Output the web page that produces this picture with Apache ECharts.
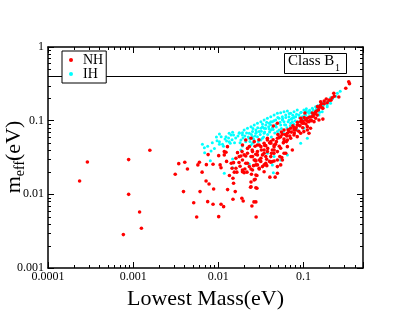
<!DOCTYPE html>
<html><head><meta charset="utf-8">
<script src="https://cdn.jsdelivr.net/npm/echarts@6/dist/echarts.min.js"></script>
<style>html,body{margin:0;padding:0;background:#fff}#c{width:409px;height:316px}</style>
</head><body><div id="c"></div>
<script>
const xTickLabels = ['0.0001','0.001','0.01','0.1'];
const yTickLabels = ['0.001','0.01','0.1','1'];
const minorMultipliers = [2,3,4,5,6,7,8,9];
const xDecades = [0.0001,0.001,0.01,0.1];
const yDecades = [0.001,0.01,0.1];
const hLineValue = 0.4;
const seriesNames = ['NH','IH'];
const nhData = [
[0.000235,0.0152],[0.00029,0.0275],[0.000885,0.0296],[0.000885,0.01],[0.00119,0.00577],[0.00125,0.00347],[0.000767,0.00284],[0.00157,0.0397],
[0.00312,0.0187],[0.00343,0.0261],[0.00404,0.0272],[0.00434,0.0221],[0.0039,0.0109],[0.00514,0.0077],[0.00557,0.00493],[0.00575,0.0251],[0.006,0.0272],[0.0061,0.0109],[0.00645,0.02],
[0.00718,0.0152],[0.00778,0.0138],[0.00881,0.0118],[0.0075,0.00796],[0.00867,0.00734],[0.01076,0.00734],[0.01154,0.0068],[0.01285,0.0116],[0.0158,0.0109],[0.01486,0.00857],[0.0189,0.00885],[0.0196,0.00813],[0.0101,0.00498],[0.01486,0.0165],[0.0151,0.01415],
[0.00724,0.0253],[0.00867,0.0256],[0.00759,0.0346],[0.0101,0.0335],[0.01076,0.023],[0.0105,0.0251],[0.0123,0.0373],[0.0142,0.0264],[0.0151,0.0269],[0.0161,0.0226],
[0.0262,0.00789],[0.0276,0.00789],[0.0248,0.00696],[0.0278,0.00493],[0.0242,0.0127],[0.0276,0.0123],[0.0271,0.016],[0.0242,0.0147],
[0.0192,0.0214],[0.0201,0.0197],[0.0231,0.0238],[0.0252,0.0214],[0.0276,0.0183],[0.0288,0.0251],[0.033,0.0238],[0.0345,0.0203],[0.0302,0.0293],[0.0361,0.0325],[0.0403,0.0171],[0.0465,0.0171],[0.0494,0.0238],[0.0431,0.04],[0.0527,0.0325],[0.0565,0.0293],[0.0619,0.0361],[0.074,0.04],
[0.021,0.0547],[0.0231,0.0444],[0.0252,0.038],[0.0168,0.0368],[0.0184,0.0332],[0.021,0.0332],[0.0192,0.0293],[0.0205,0.0221],[0.0217,0.02],[0.0242,0.0221],[0.0259,0.0245],[0.0245,0.0187],[0.0284,0.018],[0.0264,0.0157],[0.0239,0.0125],[0.0284,0.0121],[0.0371,0.0245],[0.0494,0.0193],[0.0192,0.0468],[0.01175,0.038],
[0.34,0.338],[0.347,0.318],[0.314,0.275],[0.26,0.21],[0.227,0.235],[0.217,0.205],[0.185,0.197],[0.175,0.185],[0.163,0.17],[0.169,0.147],[0.155,0.153],[0.139,0.132],[0.145,0.119],[0.133,0.122],[0.125,0.113],[0.169,0.105],[0.116,0.097],[0.104,0.127],[0.0986,0.097],[0.0927,0.108],[0.0869,0.0874],[0.0774,0.0804],[0.081,0.0748],[0.0676,0.071],[0.0637,0.062],[0.0591,0.0565],[0.0565,0.0654],[0.0517,0.0588],[0.0481,0.0519],[0.0452,0.0444],[0.0413,0.0493],[0.0377,0.0577],[0.0361,0.0458],[0.0345,0.04],[0.033,0.0343],[0.0302,0.0468],[0.0288,0.038],[0.0271,0.0293],[0.0252,0.0325],[0.022,0.0264],[0.0201,0.0343],[0.0176,0.0325],[0.0161,0.0309],[0.0145,0.0226],[0.0128,0.0444],[0.01175,0.0343],[0.0154,0.02],[0.0192,0.0203],[0.0302,0.0221],[0.0556,0.0315],[0.0413,0.0273],[0.0452,0.0284],[0.0345,0.0251],[0.0276,0.0284],[0.116,0.0675],[0.111,0.083],[0.133,0.097],[0.139,0.108],
[0.0443,0.0848],[0.0494,0.0922],[0.0591,0.0748],[0.0647,0.0675],[0.0708,0.0789],[0.0774,0.0748],[0.0845,0.0874],[0.0927,0.097],[0.101,0.0922],[0.111,0.108],[0.121,0.102],[0.0242,0.0577],[0.0264,0.0519],[0.0288,0.0468],[0.0316,0.0444],[0.0345,0.0493],[0.0377,0.0547],[0.0413,0.0519],[0.0452,0.0468],[0.0494,0.0577],[0.054,0.0607],[0.0591,0.0519],[0.0647,0.0547],[0.0708,0.0577],[0.0774,0.064],[0.0845,0.0607],[0.0927,0.0675],[0.101,0.071],[0.111,0.0748],[0.121,0.0789],[0.022,0.0361],[0.0242,0.0325],[0.0264,0.0293],[0.0288,0.0343],[0.0316,0.0309],[0.0345,0.0361],[0.0377,0.038],[0.0413,0.0325],[0.0452,0.04],[0.0494,0.038],[0.054,0.0422],[0.0591,0.0361],[0.0647,0.0444],[0.021,0.0264],[0.0276,0.0251],[0.0302,0.0226],[0.0361,0.0264],[0.0431,0.0278],[0.0494,0.0293],[0.054,0.0251],
[0.159,0.181],[0.146,0.155],[0.127,0.127],[0.152,0.102],[0.106,0.102],[0.0969,0.0922],[0.2,0.19],[0.23,0.215],
[0.03,0.055],[0.032,0.04],[0.035,0.046],[0.038,0.042],[0.04,0.05],[0.042,0.036],[0.044,0.055],[0.047,0.048],[0.05,0.065],[0.052,0.045],[0.055,0.07],[0.058,0.05],[0.061,0.065],[0.063,0.052],[0.066,0.075],[0.069,0.062],[0.072,0.07],[0.075,0.085],[0.078,0.068],[0.082,0.08],[0.085,0.095],[0.088,0.072],[0.091,0.085],[0.095,0.1],[0.098,0.08],[0.102,0.11],[0.107,0.09],[0.112,0.098],[0.118,0.112],[0.124,0.1],[0.13,0.115],[0.137,0.125],[0.143,0.135],[0.15,0.14],[0.158,0.16],[0.165,0.15],[0.175,0.17],[0.19,0.175],[0.21,0.19],[0.025,0.04],[0.027,0.045],[0.022,0.042],[0.019,0.038],[0.0175,0.027],[0.018,0.024],[0.0165,0.02],[0.0135,0.018],[0.0125,0.028],[0.0275,0.035],[0.0315,0.028],[0.037,0.03],[0.04,0.028],[0.045,0.036]
];
const ihData = [
[0.208,0.205],[0.19,0.163],[0.152,0.147],[0.127,0.147],[0.116,0.132],[0.106,0.135],[0.0885,0.119],[0.0774,0.11],[0.0676,0.102],[0.0591,0.097],[0.054,0.0874],[0.0472,0.0874],[0.0431,0.0804],[0.0395,0.0771],[0.0345,0.0787],[0.0316,0.0787],[0.0302,0.071],[0.0276,0.0675],[0.0252,0.0607],[0.0231,0.0577],[0.021,0.0547],[0.0176,0.0675],[0.0192,0.064],[0.0147,0.0696],[0.0141,0.064],[0.0123,0.0607],[0.0108,0.0607],[0.0103,0.0519],[0.01345,0.0519],[0.00686,0.043],[0.00822,0.0388],[0.0184,0.0547],[0.0242,0.0468],[0.033,0.0577],[0.0517,0.0748],[0.0619,0.0874],[0.074,0.097],[0.0969,0.113],[0.139,0.155],[0.166,0.172],[0.0413,0.097],[0.0565,0.102],[0.01175,0.0193],
[0.0103,0.066],[0.0151,0.064],[0.0192,0.0687],[0.00966,0.0535],[0.012,0.0565],[0.0103,0.0479],[0.0112,0.0479],[0.0138,0.0493],[0.00691,0.0368],[0.0147,0.0302],[0.0184,0.04],[0.0192,0.0454],
[0.0134,0.0675],[0.0176,0.0687],[0.00806,0.0286],[0.0147,0.023],[0.0231,0.0258],[0.0443,0.0197],
[0.0201,0.0748],[0.022,0.0789],[0.0242,0.083],[0.0264,0.0874],[0.0288,0.0922],[0.0316,0.097],[0.0345,0.102],[0.0377,0.108],[0.0413,0.113],[0.0452,0.119],[0.0494,0.126],[0.054,0.128],[0.0591,0.132],[0.0647,0.135],[0.0708,0.126],[0.0774,0.132],[0.0845,0.14],[0.0927,0.128],[0.101,0.14],[0.111,0.132],[0.0231,0.0675],[0.0252,0.071],[0.0276,0.0748],[0.033,0.083],[0.0361,0.0874],[0.0395,0.0922],[0.0431,0.097],[0.0472,0.102],[0.0517,0.108],[0.0565,0.113],[0.0619,0.119],[0.0676,0.113],[0.074,0.108],[0.081,0.113],[0.106,0.119],[0.116,0.126],[0.127,0.119],[0.0288,0.0607],[0.0345,0.0675],[0.0413,0.0748],[0.0494,0.071],[0.0708,0.0922],[0.0845,0.0748],[0.101,0.0789],[0.021,0.0519],[0.0252,0.0493],[0.0316,0.0547],[0.0377,0.0361],[0.0452,0.0325],[0.054,0.0293],[0.0647,0.0343],[0.0431,0.0251],[0.0927,0.0493],[0.111,0.0577],
[0.208,0.172],[0.19,0.155],[0.166,0.132],[0.152,0.119],
[0.0115,0.045],[0.0125,0.053],[0.0132,0.058],[0.0145,0.055],[0.0155,0.05],[0.016,0.058],[0.017,0.062],[0.018,0.05],[0.0195,0.058],[0.0205,0.062],[0.0215,0.068],[0.0225,0.06],[0.0235,0.052],[0.0245,0.065],[0.0255,0.078],[0.026,0.056],[0.027,0.062],[0.028,0.07],[0.029,0.08],[0.0295,0.052],[0.031,0.065],[0.032,0.072],[0.033,0.09],[0.034,0.06],[0.035,0.07],[0.036,0.078],[0.037,0.095],[0.038,0.065],[0.039,0.083],[0.04,0.07],[0.041,0.088],[0.042,0.06],[0.044,0.076],[0.045,0.1],[0.046,0.068],[0.048,0.082],[0.05,0.11],[0.051,0.066],[0.053,0.095],[0.055,0.078],[0.057,0.105],[0.058,0.07],[0.06,0.088],[0.062,0.11],[0.064,0.08],[0.066,0.097],[0.068,0.125],[0.07,0.085],[0.072,0.105],[0.075,0.118],[0.077,0.09],[0.08,0.1],[0.083,0.122],[0.086,0.097],[0.09,0.11],[0.094,0.13],[0.098,0.105],[0.103,0.12],[0.108,0.145],[0.113,0.112],[0.118,0.138],[0.123,0.13],[0.13,0.14],[0.135,0.128],[0.142,0.145],[0.148,0.16],[0.155,0.13],[0.16,0.165],[0.17,0.16],[0.18,0.175],[0.195,0.18],[0.22,0.2],[0.24,0.215],[0.25,0.235],[0.27,0.25],[0.0065,0.048],[0.0075,0.045],[0.0085,0.05],[0.009,0.042],[0.0095,0.06]
];

const X_MIN = 0.0001, X_MAX = 0.5, Y_MIN = 0.001, Y_MAX = 1;
const serif = '"Liberation Serif","DejaVu Serif",serif';

function labelFor(labels, baseExp) {
  return function (v) {
    const l = Math.log10(v), k = Math.round(l);
    if (Math.abs(l - k) > 1e-6) return '';
    const s = labels[k - baseExp];
    return s === undefined ? '' : s;
  };
}
const minorX = [], minorY = [];
xDecades.forEach(d => minorMultipliers.forEach(m => { const v = d * m; if (v < X_MAX * 0.999) minorX.push(v); }));
yDecades.forEach(d => minorMultipliers.forEach(m => minorY.push(d * m)));

const axisLineStyle = { color: '#000', width: 1.5 };
function mkX(pos, withLabels) {
  return {
    type: 'log', logBase: 10, min: X_MIN, max: X_MAX, position: pos, gridIndex: 0,
    axisLine: { show: true, onZero: false, lineStyle: axisLineStyle },
    axisTick: { show: true, inside: true, length: 6, lineStyle: { color: '#000', width: 1 } },
    axisLabel: withLabels ? { show: true, formatter: labelFor(xTickLabels, -4), fontFamily: serif, fontSize: 12, color: '#000', margin: 3, showMinLabel: true, showMaxLabel: true } : { show: false },
    splitLine: { show: false }, minorTick: { show: false }, minorSplitLine: { show: false },
    name: withLabels ? 'Lowest Mass(eV)' : '', nameLocation: 'middle', nameGap: 11,
    nameTextStyle: { fontFamily: serif, fontSize: 22, color: '#000' }
  };
}
function mkY(pos, withLabels) {
  return {
    type: 'log', logBase: 10, min: Y_MIN, max: Y_MAX, position: pos, gridIndex: 0,
    axisLine: { show: true, onZero: false, lineStyle: axisLineStyle },
    axisTick: { show: true, inside: true, length: 6, lineStyle: { color: '#000', width: 1 } },
    axisLabel: withLabels ? { show: true, formatter: labelFor(yTickLabels, -3), fontFamily: serif, fontSize: 12, color: '#000', margin: 4, showMinLabel: true, showMaxLabel: true } : { show: false },
    splitLine: { show: false }, minorTick: { show: false }, minorSplitLine: { show: false }
  };
}

const chart = echarts.init(document.getElementById('c'), null, { renderer: 'canvas' });
chart.setOption({
  animation: false,
  backgroundColor: '#fff',
  grid: { left: 48, right: 46, top: 47, bottom: 48, containLabel: false, outerBoundsMode: 'none' },
  xAxis: [mkX('bottom', true), mkX('top', false)],
  yAxis: [mkY('left', true), mkY('right', false)],
  legend: {
    data: seriesNames, orient: 'vertical', left: 62, top: 51, z: 20,
    padding: [2, 3, 2, 7], itemWidth: 4, itemHeight: 4, itemGap: 0,
    borderColor: '#000', borderWidth: 1, borderRadius: 0, backgroundColor: '#fff',
    icon: 'circle', selectedMode: false,
    textStyle: { fontFamily: serif, fontSize: 14, color: '#000', lineHeight: 12, padding: [0, 0, 0, 5] }
  },
  graphic: [
    {
      type: 'text', x: 14, y: 157, rotation: Math.PI / 2, z: 20,
      style: {
        text: '{m|m}{s|eff}{m|(eV)}', align: 'center', verticalAlign: 'middle',
        rich: {
          m: { fontFamily: serif, fontSize: 22, lineHeight: 22, fill: '#000' },
          s: { fontFamily: serif, fontSize: 14, lineHeight: 14, padding: [12, 0, 0, 0], fill: '#000' }
        }
      }
    },
    {
      type: 'group', x: 284.5, y: 53.5, z: 20,
      children: [
        { type: 'rect', shape: { x: 0, y: 0, width: 62, height: 20 }, style: { fill: '#fff', stroke: '#000', lineWidth: 1 } },
        { type: 'text', x: 3.5, y: 7.5, style: { text: 'Class B', fontFamily: serif, fontSize: 15, fill: '#000', verticalAlign: 'middle', align: 'left' } },
        { type: 'text', x: 50.5, y: 15, style: { text: '1', fontFamily: serif, fontSize: 10, fill: '#000', verticalAlign: 'middle', align: 'left' } }
      ]
    }
  ],
  series: [
    {
      name: 'IH', type: 'scatter', xAxisIndex: 0, yAxisIndex: 0, data: ihData,
      symbol: 'circle', symbolSize: 3, itemStyle: { color: '#00ffff', opacity: 1 }, z: 2, silent: true
    },
    {
      name: 'NH', type: 'scatter', xAxisIndex: 0, yAxisIndex: 0, data: nhData,
      symbol: 'circle', symbolSize: 3.6, itemStyle: { color: '#ff0000', opacity: 1 }, z: 3, silent: true,
      markLine: {
        silent: true, symbol: 'none', label: { show: false }, animation: false, z: 1,
        lineStyle: { color: '#000', width: 1, type: 'solid' },
        data: [{ yAxis: hLineValue }]
      }
    },
    {
      type: 'custom', xAxisIndex: 0, yAxisIndex: 0, silent: true, z: 5, clip: false,
      data: [[X_MIN, Y_MIN]],
      renderItem: function (params, api) {
        const cs = params.coordSys;
        const top = cs.y, bottom = cs.y + cs.height, left = cs.x, right = cs.x + cs.width;
        const ch = [];
        const ln = (x1, y1, x2, y2) => ({ type: 'line', shape: { x1, y1, x2, y2 }, style: { stroke: '#000', lineWidth: 1 } });
        minorX.forEach(v => { const px = Math.round(api.coord([v, Y_MIN])[0]) + 0.5; ch.push(ln(px, bottom, px, bottom - 3)); ch.push(ln(px, top, px, top + 3)); });
        minorY.forEach(v => { const py = Math.round(api.coord([X_MIN, v])[1]) + 0.5; ch.push(ln(left, py, left + 3, py)); ch.push(ln(right, py, right - 3, py)); });
        return { type: 'group', children: ch };
      }
    }
  ]
});
</script>
</body></html>
